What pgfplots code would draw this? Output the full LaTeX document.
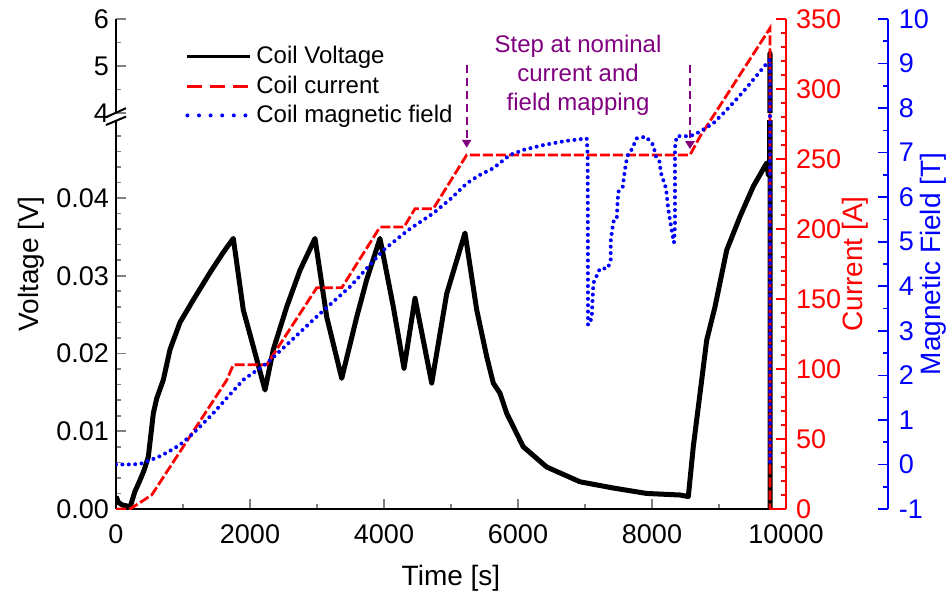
\documentclass[border=0pt]{standalone}
\usepackage{fontspec}
\setmainfont{Liberation Sans}
\usepackage{pgfplots}
\usepackage{pgfplotstable}
\pgfplotsset{compat=1.18}
\usetikzlibrary{arrows.meta}
\definecolor{annot}{RGB}{128,0,128}

\pgfplotstableread{
t V
0 0.0016
40 0.0008
100 0.0005
160 0.0004
209 0.0002
280 0.0022
358 0.0037
420 0.0050
482 0.0067
520 0.0095
557 0.0123
607 0.0142
706 0.0166
806 0.0205
955 0.0240
1154 0.0269
1403 0.0304
1601 0.0330
1751 0.0348
1900 0.0256
2049 0.0209
2224 0.0153
2348 0.0205
2548 0.0260
2746 0.0307
2970 0.0348
3145 0.0247
3369 0.0168
3593 0.0247
3742 0.0295
3940 0.0348
4139 0.0260
4299 0.0181
4463 0.0271
4712 0.0162
4936 0.0277
5209 0.0355
5384 0.0256
5533 0.0196
5631 0.0162
5731 0.0149
5831 0.0123
6079 0.0080
6428 0.0054
6925 0.0035
7422 0.0027
7921 0.0020
8418 0.0018
8542 0.0016
8616 0.0080
8742 0.0166
8816 0.0217
8940 0.0260
9115 0.0333
9313 0.0376
9512 0.0415
9712 0.0445
9736 0.0430
9755 0.0445
9761 5.27
9763 0
}\voltdata

\pgfplotstableread{
t I
0 0
209 0
533 10
1652 92
1751 103
2249 103
2996 158
3369 158
3940 201.4
4299 201.4
4463 214.5
4736 214.5
5234 252.9
8567 252.9
8716 266
9761 343.4
9761 0
}\currdata

\pgfplotstableread{
t B
0 0.00
200 0.00
358 0.01
482 0.08
620 0.16
757 0.265
870 0.36
981 0.475
1154 0.70
1300 0.92
1452 1.15
1652 1.49
1900 1.90
2249 2.27
2622 2.79
2996 3.32
3493 3.99
3990 4.81
4350 5.25
4736 5.64
5000 5.97
5234 6.31
5431 6.50
5631 6.65
5881 6.95
6100 7.07
6378 7.17
6700 7.26
7025 7.32
7040 6.95
7045 3.13
7100 3.28
7110 3.62
7125 4.07
7224 4.40
7339 4.40
7384 4.59
7384 5.02
7422 5.45
7473 5.49
7488 5.94
7497 6.12
7563 6.23
7597 6.63
7631 6.92
7697 7.07
7772 7.32
7910 7.36
8019 7.17
8060 6.91
8109 6.82
8134 6.54
8209 6.20
8243 5.73
8284 5.35
8328 4.98
8343 5.39
8343 7.12
8369 7.37
8567 7.37
8616 7.40
8716 7.47
8915 7.66
9115 7.96
9363 8.37
9612 8.82
9761 9.09
9761 0.00
}\fielddata

\pgfplotsset{
  basestyle/.style={
    scale only axis,
    width=335pt,
    xmin=0, xmax=10000,
    tick align=inside,
    major tick length=5pt,
    minor tick length=2.5pt,
    tick style={line width=0.8pt},
    axis line style={line width=1pt},
    /pgf/number format/assume math mode=true,
    /pgf/number format/1000 sep={},
    scaled ticks=false,
    tick label style={font=\fontsize{13.5}{16}\selectfont},
  }
}

\begin{document}
\begin{tikzpicture}
\path[use as bounding box] (-58pt,-43.5pt) rectangle (415pt,254.5pt);

% lower voltage axis
\begin{axis}[basestyle,
  at={(0,0)}, anchor=south west,
  height=194.5pt, ymin=0, ymax=0.05003,
  axis x line*=bottom, axis y line*=left,
  xtick={0,2000,4000,6000,8000,10000},
  minor xtick={1000,3000,5000,7000,9000},
  xticklabel style={yshift=-4.5pt},
  ytick={0,0.01,0.02,0.03,0.04},
  minor ytick={0.002,0.004,0.006,0.008,0.012,0.014,0.016,0.018,0.022,0.024,0.026,0.028,0.032,0.034,0.036,0.038,0.042,0.044,0.046,0.048},
  yticklabel style={/pgf/number format/.cd,fixed,fixed zerofill,precision=2},
  xlabel={Time [s]}, ylabel={Voltage [V]},
  every axis x label/.style={at={(axis description cs:0.5,-0.1774)}, anchor=center, font=\fontsize{14}{17}\selectfont},
  every axis y label/.style={at={(axis description cs:-0.127,0.63)}, anchor=center, rotate=90, font=\fontsize{14}{17}\selectfont},
]
\addplot[black, line width=2.5pt, line join=round, restrict y to domain*=-0.01:0.06] table[x=t,y=V]{\voltdata};
\end{axis}

% upper voltage axis
\begin{axis}[basestyle,
  at={(0,198pt)}, anchor=south west,
  height=47pt, ymin=4, ymax=6,
  axis x line=none, axis y line*=left,
  ytick={4,5,6}, minor ytick={4.5,5.5},
]
\addplot[black, line width=2.5pt, line join=round] table[x=t,y=V]{\voltdata};
\end{axis}

% current axis
\begin{axis}[basestyle,
  at={(0,0)}, anchor=south west,
  height=245pt, ymin=0, ymax=350,
  axis x line=none, axis y line*=right,
  ytick={0,50,...,350},
  minor ytick={10,20,30,40,60,70,80,90,110,120,130,140,160,170,180,190,210,220,230,240,260,270,280,290,310,320,330,340},
  y axis line style={red, line width=1pt},
  ytick style={red, line width=0.8pt},
  yticklabel style={red, xshift=1.5pt},
  ylabel={Current [A]},
  every axis y label/.style={at={(axis description cs:1.103,0.5)}, anchor=center, rotate=90, red, font=\fontsize{14}{17}\selectfont},
  legend style={at={(axis description cs:0.103,0.953)}, anchor=north west, draw=none, fill=none,
    font=\fontsize{12}{14}\selectfont, inner sep=0pt, row sep=0.5pt},
  legend cell align=left,
  legend image code/.code={\draw[#1] (0pt,0pt) -- (31.5pt,0pt);},
]
\addlegendimage{black, line width=1.5pt}
\addlegendentry{Coil Voltage}
\addlegendimage{red, line width=1.5pt, dash pattern=on 7.5pt off 4pt}
\addlegendentry{Coil current}
\addlegendimage{blue, line width=2pt, line cap=round, dash pattern=on 0pt off 5.8pt}
\addlegendentry{Coil magnetic field}
\addplot[forget plot, red, line width=1.4pt, dash pattern=on 5pt off 1.5pt] table[x=t,y=I]{\currdata};
\node[annot, align=center, font=\fontsize{12}{14.5}\selectfont] at (axis cs:6896,310) {Step at nominal\\current and\\field mapping};
\draw[annot, line width=1pt, dash pattern=on 4pt off 2.5pt, -{Triangle[length=4pt,width=4.5pt]}] (axis cs:5234,317) -- (axis cs:5234,258);
\draw[annot, line width=1pt, dash pattern=on 4pt off 2.5pt, -{Triangle[length=4pt,width=4.5pt]}] (axis cs:8567,317) -- (axis cs:8567,257);
\end{axis}

% field axis
\begin{axis}[basestyle,
  at={(0,0)}, anchor=south west,
  width=385.85pt, xmax=11518,
  height=245pt, ymin=-1, ymax=10,
  axis x line=none, axis y line*=right,
  ytick={-1,0,...,10},
  minor ytick={-0.5,0.5,1.5,2.5,3.5,4.5,5.5,6.5,7.5,8.5,9.5},
  y axis line style={blue, line width=1pt},
  ytick style={blue, line width=0.8pt},
  yticklabel style={blue, xshift=2pt},
  ylabel={Magnetic Field [T]},
  every axis y label/.style={at={(axis description cs:1.0587,0.5)}, anchor=center, rotate=90, blue, font=\fontsize{14}{17}\selectfont},
]
\addplot[blue, line width=2pt, line cap=round, dash pattern=on 0pt off 3.2pt] table[x=t,y=B]{\fielddata};
\end{axis}

\draw[red, line width=1pt] (326.5pt,0) -- (335pt,0);
% axis break marks
\draw[black, line width=1pt] (-5pt,195.9pt) -- (5pt,200.4pt);
\draw[black, line width=1pt] (-5pt,192pt) -- (5pt,196.2pt);
\end{tikzpicture}
\end{document}
